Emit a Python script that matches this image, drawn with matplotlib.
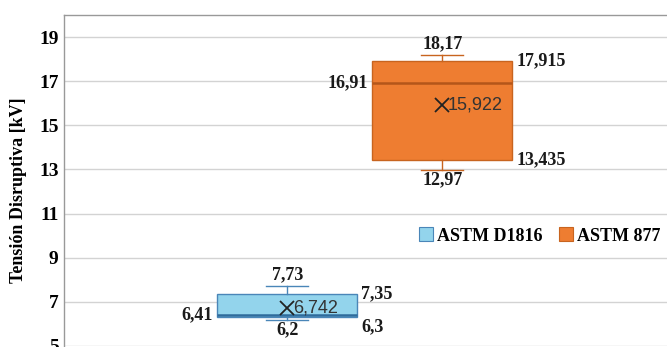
import matplotlib.pyplot as plt
from matplotlib.patches import Patch

# Box statistics (kV)
series = ['ASTM D1816', 'ASTM 877']
minimum = [6.2, 12.97]
q1 = [6.3, 13.435]
median = [6.41, 16.91]
q3 = [7.35, 17.915]
maximum = [7.73, 18.17]
mean = [6.742, 15.922]
labels_min = ['6,2', '12,97']
labels_q1 = ['6,3', '13,435']
labels_med = ['6,41', '16,91']
labels_q3 = ['7,35', '17,915']
labels_max = ['7,73', '18,17']
labels_mean = ['6,742', '15,922']
yticks = [5, 7, 9, 11, 13, 15, 17, 19]

fill = ['#93d4ec', '#ee7d31']
edge = ['#4a86b8', '#c8641f']
med_color = ['#2f6b9c', '#b4561a']

serif = 'Liberation Serif'
narrow = ['Liberation Sans Narrow', 'Liberation Sans', 'DejaVu Sans']

fig = plt.figure(figsize=(6.67, 3.47), dpi=100)
ax = fig.add_axes([64 / 667, 1 / 347, 1 - 64 / 667, 331 / 347])

stats = []
for i in range(len(series)):
    stats.append(dict(label=series[i], whislo=minimum[i], q1=q1[i], med=median[i],
                      q3=q3[i], whishi=maximum[i], mean=mean[i], fliers=[]))

positions = [0, 1]
width = 0.903
parts = ax.bxp(stats, positions=positions, widths=width, patch_artist=True,
               showmeans=True, capwidths=0.27, manage_ticks=False,
               meanprops=dict(marker='x', markersize=9.5, markeredgewidth=1.3,
                              markeredgecolor='#222222', linestyle='none'))

for i in range(len(series)):
    parts['boxes'][i].set(facecolor=fill[i], edgecolor=edge[i], linewidth=1.0)
    parts['medians'][i].set(color=med_color[i], linewidth=1.8)
    for ln in parts['whiskers'][2 * i:2 * i + 2] + parts['caps'][2 * i:2 * i + 2]:
        ln.set(color=edge[i], linewidth=1.0)

# data labels
q1_shift = [-7, 0]
bold = dict(fontfamily=serif, fontweight='bold', fontsize=13, color='#1a1a1a')
for i, p in enumerate(positions):
    half = width / 2
    ax.annotate(labels_max[i], (p, maximum[i]), xytext=(0, 2), textcoords='offset points',
                ha='center', va='bottom', **bold)
    ax.annotate(labels_min[i], (p, minimum[i]), xytext=(0, -1), textcoords='offset points',
                ha='center', va='top', **bold)
    ax.annotate(labels_q3[i], (p + half, q3[i]), xytext=(3, 0), textcoords='offset points',
                ha='left', va='center', **bold)
    ax.annotate(labels_q1[i], (p + half, q1[i]), xytext=(3, q1_shift[i]), textcoords='offset points',
                ha='left', va='center', **bold)
    ax.annotate(labels_med[i], (p - half, median[i]), xytext=(-3, 0), textcoords='offset points',
                ha='right', va='center', **bold)
    ax.annotate(labels_mean[i], (p, mean[i]), xytext=(4, 0), textcoords='offset points',
                ha='left', va='center', fontfamily=narrow, fontsize=13, color='#333333')

ax.set_xlim(-1.44, 2.45)
ax.set_ylim(5, 20)
ax.set_yticks(yticks)
ax.set_yticklabels([str(t) for t in yticks], fontfamily=serif, fontweight='bold', fontsize=14)
ax.set_xticks([])
ax.tick_params(axis='y', length=0, pad=4)
ax.yaxis.grid(True, color='#d3d3d3', linewidth=1.0)
ax.set_axisbelow(True)
for s in ['right', 'bottom']:
    ax.spines[s].set_visible(False)
for s in ['left', 'top']:
    ax.spines[s].set_color('#999999')
    ax.spines[s].set_linewidth(1.0)

fig.text(19 / 667, 1 - 190 / 347, 'Tensión Disruptiva [kV]', rotation=90,
         ha='center', va='center', fontfamily=serif, fontweight='bold', fontsize=13)

handles = [Patch(facecolor=fill[i], edgecolor=edge[i], linewidth=0.8) for i in range(len(series))]
fig.legend(handles, series, loc='center left', bbox_to_anchor=(419 / 667, 1 - 236 / 347),
           ncol=2, frameon=False, borderpad=0, borderaxespad=0, handlelength=0.8,
           handleheight=0.8, handletextpad=0.2, columnspacing=0.9,
           prop=dict(family=serif, weight='bold', size=13))

fig.savefig('out.png', dpi=100)
